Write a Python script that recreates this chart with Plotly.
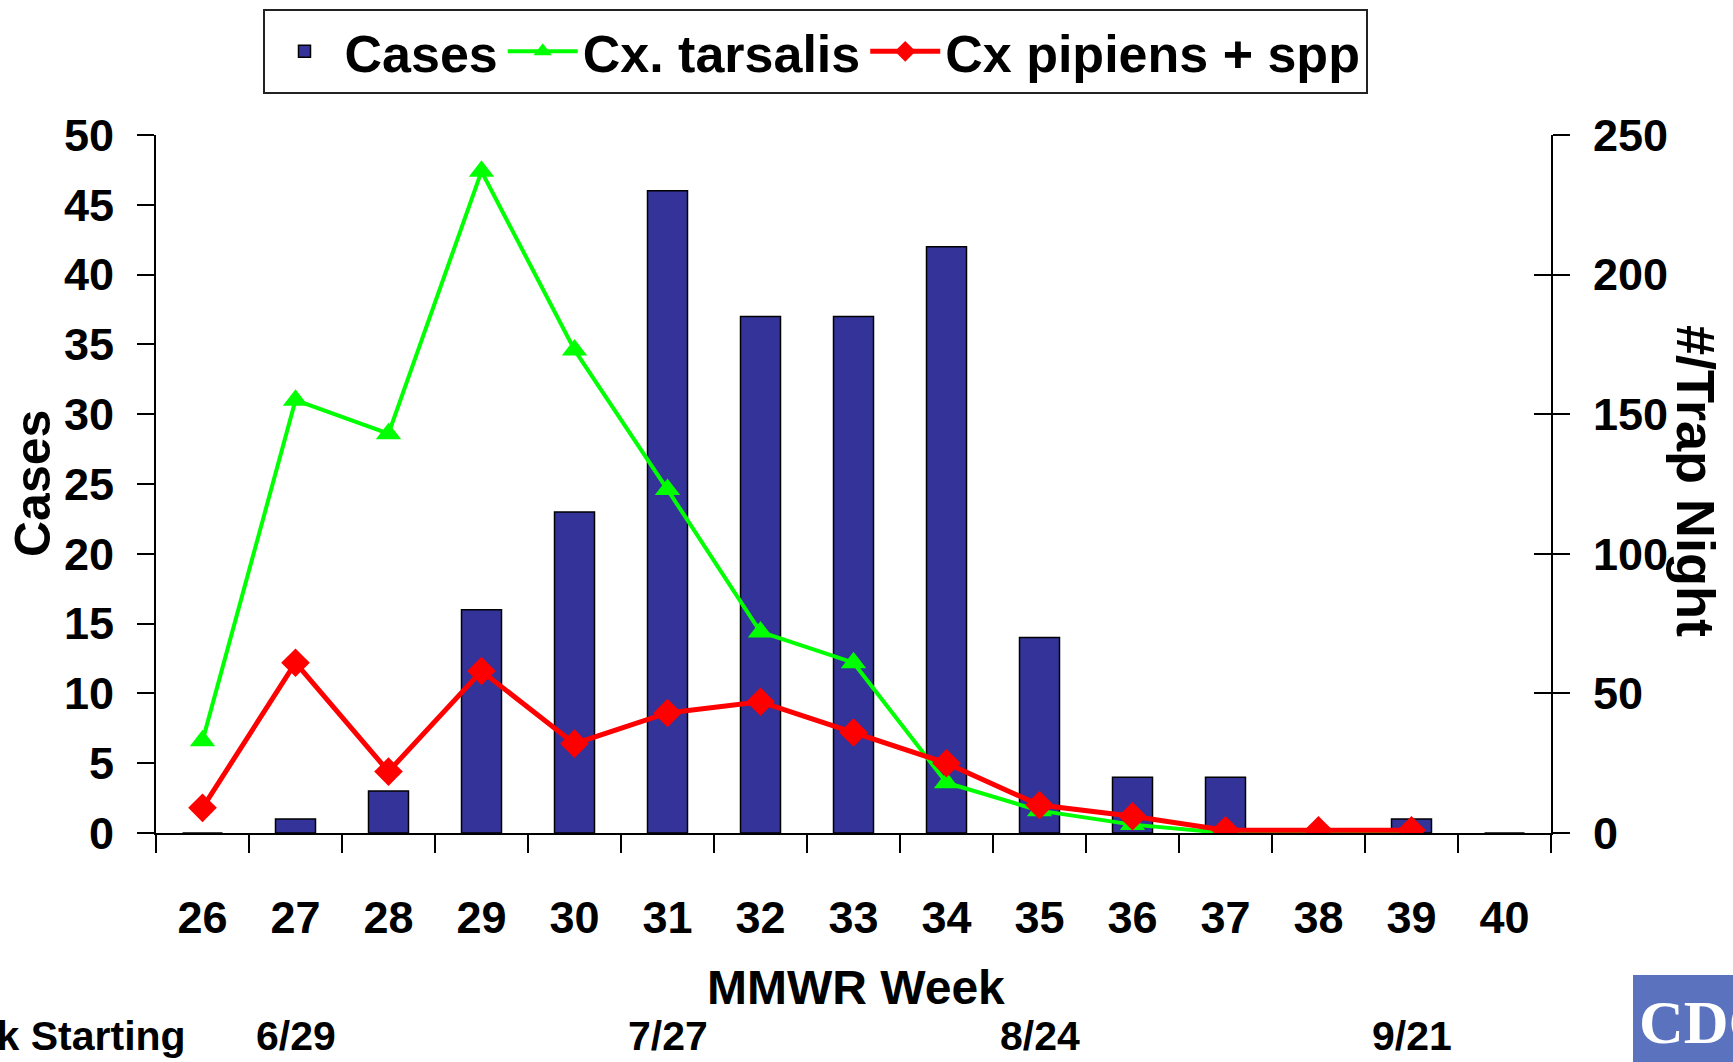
import plotly.graph_objects as go

weeks = ['26', '27', '28', '29', '30', '31', '32', '33', '34', '35', '36', '37', '38', '39', '40']
cases = [0, 1, 3, 16, 23, 46, 37, 37, 42, 14, 4, 4, 0, 1, 0]
tarsalis = [33, 155, 143, 237, 173, 123, 72, 61, 18, 8, 3, 0, 0, 0, None]
pipiens = [9, 61, 22, 58, 32, 43, 47, 36, 25, 10, 6, 1, 1, 1, None]
start_weeks = ['27', '31', '35', '39']
start_labels = ['6/29', '7/27', '8/24', '9/21']

FONT = "Liberation Sans, Arial, sans-serif"

W, H = 1733, 1062
L, R, T, B = 156, 182, 135, 229
pw, ph = W - L - R, H - T - B

def px_x(x):
    return (x - L) / pw

def px_y(y):
    return (H - B - y) / ph

fig = go.Figure()
fig.add_trace(go.Bar(
    x=weeks, y=cases, name="Cases", width=0.43,
    marker=dict(color="#333399", line=dict(color="black", width=1.5)),
    yaxis="y",
))
fig.add_trace(go.Scatter(
    x=weeks, y=tarsalis, name="Cx. tarsalis", mode="lines+markers",
    line=dict(color="#00ff00", width=4),
    marker=dict(symbol="triangle-up", size=22, color="#00ff00"),
    yaxis="y2",
))
fig.add_trace(go.Scatter(
    x=weeks, y=pipiens, name="Cx pipiens + spp", mode="lines+markers",
    line=dict(color="#ff0000", width=5),
    marker=dict(symbol="diamond", size=22, color="#ff0000"),
    yaxis="y2",
))
# empty helper trace so the inward right-hand ticks are drawn
fig.add_trace(go.Scatter(x=[], y=[], yaxis="y3", showlegend=False, hoverinfo="skip"))

tickfont = dict(family=FONT, size=45, color="black", weight=700)

fig.update_layout(
    width=W, height=H,
    margin=dict(l=L, r=R, t=T, b=B, autoexpand=False),
    paper_bgcolor="white", plot_bgcolor="white",
    showlegend=True,
    legend=dict(
        orientation="h", x=px_x(815), xanchor="center", y=px_y(9), yanchor="top",
        font=dict(family=FONT, size=52, color="black", weight=700),
        bordercolor="#222222", borderwidth=2, bgcolor="white",
        itemwidth=70, traceorder="normal", valign="middle",
    ),
    xaxis=dict(
        type="category", categoryorder="array", categoryarray=weeks,
        range=[-0.5, 14.5], tickson="boundaries", ticks="outside", ticklen=18,
        tickwidth=2, tickcolor="black", showline=True, linecolor="black", linewidth=2,
        showgrid=False, zeroline=False, tickfont=tickfont, ticklabelstandoff=44,
    ),
    yaxis=dict(
        range=[0, 50], dtick=5, ticks="outside", ticklen=17, tickwidth=2, tickcolor="black",
        showline=True, linecolor="black", linewidth=2, showgrid=False, zeroline=False,
        tickfont=tickfont, ticklabelstandoff=14,
    ),
    yaxis2=dict(
        range=[0, 250], dtick=50, overlaying="y", side="right", ticks="outside",
        ticklen=17, tickwidth=2, tickcolor="black", showline=True, linecolor="black",
        linewidth=2, showgrid=False, zeroline=False, tickfont=tickfont, ticklabelstandoff=14,
    ),
    yaxis3=dict(
        range=[0, 250], dtick=50, overlaying="y", side="right", ticks="inside",
        ticklen=17, tickwidth=2, tickcolor="black", showline=False, showgrid=False,
        zeroline=False, showticklabels=False,
    ),
)

def ann(text, x, y, size, xref="paper", angle=0, xanchor="center", color="black", family=FONT):
    return dict(text=text, x=x, y=y, xref=xref, yref="paper", textangle=angle,
                xanchor=xanchor, yanchor="middle", showarrow=False,
                font=dict(family=family, size=size, color=color, weight=700))

annots = [
    ann("Cases", px_x(33), 0.5, 50, angle=-90),
    ann("#/Trap Night", px_x(1696), px_y(481), 54, angle=90),
    ann("MMWR Week", px_x(856), px_y(987), 48),
    ann("Week Starting", px_x(188), px_y(1036), 41, xanchor="right"),
]
for wk, lab in zip(start_weeks, start_labels):
    annots.append(ann(lab, weeks.index(wk), px_y(1036), 41, xref="x"))
annots.append(ann("CDC", px_x(1637), px_y(1022), 62, xanchor="left", color="white",
                  family="Liberation Serif, serif"))
fig.update_layout(annotations=annots)

fig.add_shape(type="rect", xref="paper", yref="paper", x0=px_x(1633), x1=px_x(1740),
              y0=px_y(975), y1=px_y(1070), fillcolor="#5b73bf", line=dict(width=0), layer="below")

fig.write_html("out.html", config={"displayModeBar": False},
               post_script="document.body.style.margin='0';")
